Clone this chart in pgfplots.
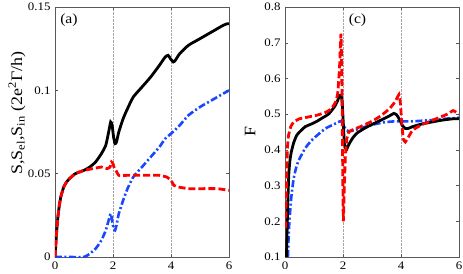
\documentclass[border=0pt]{standalone}
\usepackage{fontspec}
\setmainfont{Liberation Serif}[FakeStretch=1.12]
\usepackage{pgfplots}
\pgfplotsset{compat=1.18}
\definecolor{mblue}{RGB}{25,70,255}
\begin{document}
\begin{tikzpicture}[x=1pt,y=1pt]
\path[use as bounding box] (-55pt,-16pt) rectangle (408pt,257pt);
\pgfplotsset{
  every axis/.style={
    scale only axis, width=174pt, height=250pt,
    xmin=0, xmax=6, xtick={0,2,4,6},
    tick align=inside, major tick length=3pt,
    xtick pos=both, ytick pos=both,
    xmajorgrids=true, major grid style={densely dotted, gray!70, line width=0.4pt},
    tick label style={font=\fontsize{11.5}{12}\selectfont},
    label style={font=\fontsize{16}{17}\selectfont},
    /pgf/number format/assume math mode=true,
    axis line style={line width=0.5pt, gray!70!black},
    every tick/.style={gray!70!black, line width=0.4pt},
    yticklabel style={xshift=-1pt},
    xticklabel style={yshift=-1pt},
  },
  lb/.style={black, line width=2.8pt, smooth, tension=0.35},
  lr/.style={red, line width=2.8pt, dash pattern=on 7pt off 3pt, smooth, tension=0.2},
  lbl/.style={mblue, line width=2.6pt, dash pattern=on 7pt off 2.5pt on 2pt off 2.5pt, smooth, tension=0.35},
}
\begin{axis}[at={(0,0)}, anchor=south west,
  ymin=0, ymax=0.15, ytick={0,0.05,0.1,0.15}, yticklabels={0,0.05,0.1,0.15},
  ylabel={S,S\textsubscript{el},S\textsubscript{in} (2e\textsuperscript{2}Γ/h)},
  ylabel style={at={(rel axis cs:0,0.576)}, anchor=south, yshift=26pt}]
\addplot[lbl] coordinates {(0,0) (0.5,0) (1.0,0.0) (1.2,0.002) (1.4,0.005) (1.6,0.01) (1.75,0.016) (1.85,0.022) (1.92,0.026) (1.97,0.022) (2.02,0.017) (2.07,0.016) (2.12,0.019) (2.2,0.026) (2.35,0.034) (2.5,0.041) (2.7,0.048) (3.0,0.054) (3.3,0.06) (3.6,0.066) (3.8,0.071) (4.0,0.074) (4.3,0.079) (4.6,0.085) (5.0,0.09) (5.4,0.094) (5.8,0.098) (6,0.1)};
\addplot[lb] coordinates {(0,0) (0.03,0.008) (0.06,0.016) (0.1,0.024) (0.15,0.031) (0.2,0.036) (0.3,0.042) (0.4,0.045) (0.5,0.047) (0.7,0.05) (1.0,0.052) (1.2,0.054) (1.4,0.057) (1.6,0.062) (1.75,0.067) (1.85,0.075) (1.92,0.081) (1.97,0.079) (2.02,0.072) (2.07,0.068) (2.12,0.069) (2.2,0.075) (2.35,0.083) (2.5,0.089) (2.7,0.096) (3.0,0.102) (3.3,0.108) (3.6,0.115) (3.8,0.12) (3.9,0.121) (3.98,0.119) (4.08,0.117) (4.15,0.118) (4.3,0.122) (4.6,0.127) (5.0,0.131) (5.4,0.135) (5.8,0.139) (5.95,0.14) (6,0.14)};
\addplot[lr] coordinates {(0,0) (0.03,0.008) (0.06,0.016) (0.1,0.024) (0.15,0.031) (0.2,0.036) (0.3,0.042) (0.4,0.045) (0.5,0.047) (0.7,0.05) (1.0,0.052) (1.3,0.053) (1.6,0.054) (1.8,0.053) (1.9,0.054) (1.95,0.057) (2.0,0.056) (2.05,0.053) (2.1,0.052) (2.2,0.049) (2.5,0.049) (3.0,0.049) (3.6,0.049) (3.85,0.048) (4.0,0.046) (4.1,0.043) (4.25,0.042) (4.6,0.041) (5.0,0.041) (5.6,0.041) (6,0.040)};
\node[anchor=north west, font=\fontsize{14}{15}\selectfont] at (rel axis cs:0.01,0.985) {(a)};
\end{axis}
\begin{axis}[at={(230pt,0)}, anchor=south west,
  ymin=0.1, ymax=0.8, ytick={0.1,0.2,...,0.8}, yticklabels={0.1,0.2,0.3,0.4,0.5,0.6,0.7,0.8},
  ylabel={F},
  ylabel style={at={(rel axis cs:0,0.5)}, anchor=south, yshift=26pt}]
\addplot[lbl] coordinates {(0.1,0.1) (0.13,0.17) (0.17,0.22) (0.22,0.27) (0.3,0.32) (0.4,0.355) (0.5,0.375) (0.7,0.405) (0.9,0.425) (1.1,0.44) (1.4,0.46) (1.7,0.472) (1.9,0.48) (1.97,0.478) (2.03,0.468) (2.1,0.456) (2.2,0.452) (2.4,0.455) (2.7,0.463) (3.0,0.47) (3.4,0.477) (3.8,0.48) (4.0,0.48) (4.4,0.48) (5.0,0.483) (5.5,0.487) (6,0.49)};
\addplot[lb] coordinates {(0.05,0.1) (0.08,0.2) (0.1,0.26) (0.13,0.33) (0.17,0.37) (0.22,0.395) (0.3,0.42) (0.4,0.44) (0.5,0.45) (0.7,0.465) (0.9,0.472) (1.1,0.48) (1.3,0.49) (1.5,0.50) (1.7,0.52) (1.8,0.535) (1.88,0.552) (1.93,0.553) (1.97,0.535) (2.0,0.49) (2.04,0.43) (2.08,0.405) (2.13,0.402) (2.2,0.415) (2.35,0.435) (2.5,0.448) (2.8,0.463) (3.1,0.475) (3.4,0.487) (3.6,0.495) (3.75,0.502) (3.85,0.498) (3.95,0.485) (4.05,0.468) (4.15,0.46) (4.25,0.46) (4.4,0.465) (4.7,0.472) (5.0,0.477) (5.4,0.483) (5.8,0.487) (6,0.487)};
\addplot[lr] coordinates {(0.02,0.18) (0.05,0.3) (0.08,0.4) (0.12,0.44) (0.2,0.465) (0.3,0.478) (0.5,0.487) (0.8,0.492) (1.1,0.497) (1.4,0.505) (1.6,0.515) (1.75,0.535) (1.82,0.56) (1.88,0.63) (1.93,0.725) (1.96,0.6) (1.99,0.35) (2.01,0.2) (2.04,0.28) (2.08,0.38) (2.13,0.43) (2.2,0.45) (2.3,0.455) (2.6,0.465) (3.0,0.48) (3.3,0.495) (3.6,0.515) (3.8,0.535) (3.93,0.555) (3.98,0.53) (4.03,0.47) (4.08,0.43) (4.15,0.422) (4.25,0.435) (4.4,0.455) (4.7,0.47) (5.0,0.48) (5.3,0.49) (5.6,0.5) (5.8,0.51) (5.9,0.505) (6,0.5)};
\node[anchor=north, font=\fontsize{14}{15}\selectfont] at (axis cs:2.5,0.79) {(c)};
\end{axis}
\end{tikzpicture}
\end{document}
